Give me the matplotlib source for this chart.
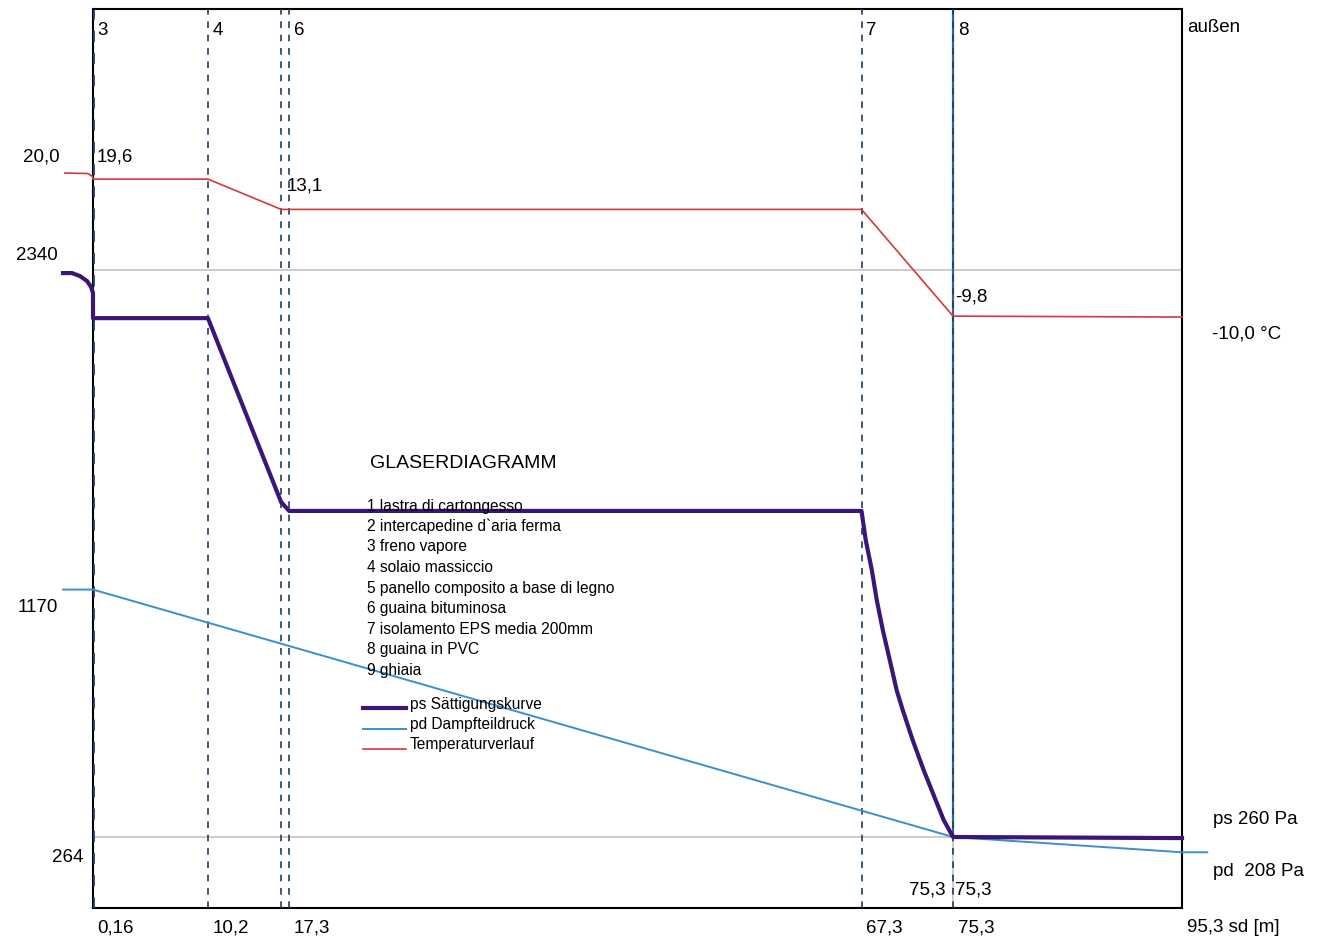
import matplotlib
matplotlib.use("Agg")
import matplotlib.pyplot as plt
from matplotlib.lines import Line2D
from matplotlib.transforms import blended_transform_factory

plt.rcParams['font.family'] = ['Liberation Sans', 'DejaVu Sans']

# layer boundaries (sd in m)
bounds = [0.16, 10.2, 16.6, 17.3, 67.3, 75.3]
layer_x = [0.16, 10.2, 17.3, 67.3, 75.3]
layer_txt = ['3', '4', '6', '7', '8']

# temperature curve (°C)
temp_x = [-2.3, -0.3, 0.1, 0.16, 10.2, 16.6, 17.3, 67.3, 75.3, 95.3]
temp_y = [20.9, 20.8, 20.2, 19.6, 19.6, 13.1, 13.1, 13.1, -9.8, -10.0]

# saturation pressure ps (Pa)
ps_x = [-2.46, -1.67, -0.98, -0.36, -0.01, 0.16, 0.16, 10.2, 16.6, 17.3,
        67.3, 67.67, 68.2, 68.63, 69.16, 69.77, 70.37, 70.9, 71.77, 72.73,
        73.78, 74.48, 75.3, 95.3]
ps_y = [2329, 2329, 2318, 2300, 2278, 2256, 2164, 2164, 1490, 1458,
        1458, 1351, 1242, 1132, 1022, 912, 802, 729, 619, 509,
        399, 326, 264, 260]

# partial vapour pressure pd (Pa)
pd_x = [-2.46, 0.16, 75.3, 95.3, 97.5]
pd_y = [1170, 1170, 264, 208, 208]

layers = ['1 lastra di cartongesso', '2 intercapedine d`aria ferma', '3 freno vapore',
          '4 solaio massiccio', '5 panello composito a base di legno', '6 guaina bituminosa',
          '7 isolamento EPS media 200mm', '8 guaina in PVC', '9 ghiaia']
legend_txt = ['ps Sättigungskurve', 'pd Dampfteildruck', 'Temperaturverlauf']

c_ps = '#3b1677'
c_pd = '#3a8fd0'
c_t = '#d13a3a'
c_dash = '#1d3d63'
c_grey = '#c4c4c4'

W, H = 1329, 939
fig = plt.figure(figsize=(W / 100, H / 100), dpi=100)
ax = fig.add_axes([93 / W, 1 - 908 / H, (1182 - 93) / W, (908 - 9) / H])
ax.set_xlim(0.16, 95.3)
ax.set_ylim(4, 3296)
ax.set_xticks([])
ax.set_yticks([])
for s in ax.spines.values():
    s.set_linewidth(1.5)
    s.set_color('black')

ax2 = ax.twinx()
ax2.set_ylim(-136.8, 56.1)
ax2.axis('off')

# grey reference lines
ax.axhline(2340, color=c_grey, lw=1.2, zorder=1)
ax.axhline(264, color=c_grey, lw=1.2, zorder=1)

# layer boundaries
ax.plot([75.3, 75.3], [264, 3296], color='#2f6690', lw=1.6, zorder=2)
ax.plot([75.3, 75.3], [4, 264], color=c_grey, lw=1.2, zorder=2)
for b in bounds:
    ax.axvline(b, color=c_dash, lw=2.0 if b == 0.16 else 1.2,
               linestyle=(0, (4, 4)), zorder=3)

# curves
ax.plot(pd_x, pd_y, color=c_pd, lw=1.4, clip_on=False, zorder=4)
ax.plot(ps_x, ps_y, color=c_ps, lw=3, clip_on=False, zorder=5,
        solid_joinstyle='round')
ax2.plot(temp_x, temp_y, color=c_t, lw=1.2, clip_on=False, zorder=5)

fs = 13.5
trans_top = blended_transform_factory(ax.transData, ax.transAxes)
for x, t in zip(layer_x, layer_txt):
    ax.text(x + 0.4, 0.976, t, transform=trans_top, fontsize=fs, va='center', ha='left')

fig.text(1187 / W, 1 - 27 / H, 'außen', fontsize=fs, va='center', ha='left')
fig.text(60 / W, 1 - 157 / H, '20,0', fontsize=fs, va='center', ha='right')
fig.text(58 / W, 1 - 256 / H, '2340', fontsize=fs, va='center', ha='right')
fig.text(58 / W, 1 - 608 / H, '1170', fontsize=fs, va='center', ha='right')
fig.text(83 / W, 1 - 857 / H, '264', fontsize=fs, va='center', ha='right')
fig.text(97 / W, 1 - 157 / H, '19,6', fontsize=fs, va='center', ha='left')
fig.text(287 / W, 1 - 186 / H, '13,1', fontsize=fs, va='center', ha='left')
fig.text(955 / W, 1 - 297 / H, '-9,8', fontsize=fs, va='center', ha='left')
fig.text(1212 / W, 1 - 334 / H, '-10,0 °C', fontsize=fs, va='center', ha='left')
fig.text(1213 / W, 1 - 820 / H, 'ps 260 Pa', fontsize=fs, va='center', ha='left')
fig.text(1213 / W, 1 - 872 / H, 'pd  208 Pa', fontsize=fs, va='center', ha='left')
fig.text(946 / W, 1 - 890 / H, '75,3', fontsize=fs, va='center', ha='right')
fig.text(955 / W, 1 - 890 / H, '75,3', fontsize=fs, va='center', ha='left')

bottom = ['0,16', '10,2', '17,3', '67,3', '75,3', '95,3 sd [m]']
bottom_x = [0.16, 10.2, 17.3, 67.3, 75.3, 95.3]
for x, t in zip(bottom_x, bottom):
    ax.text(x + 0.4, -0.022, t, transform=trans_top, fontsize=fs, va='center', ha='left')

fig.text(370 / W, 1 - 463 / H, 'GLASERDIAGRAMM', fontsize=14, va='center', ha='left')
for i, t in enumerate(layers):
    fig.text(367 / W, 1 - (506 + i * 20.5) / H, t, fontsize=11.2, va='center', ha='left')

for i, (t, c, lw) in enumerate(zip(legend_txt, [c_ps, c_pd, c_t], [3, 1.4, 1.2])):
    y = 1 - (708 + i * 20.5) / H
    fig.add_artist(Line2D([363 / W, 406 / W], [y, y], color=c, lw=lw))
    fig.text(410 / W, 1 - (704 + i * 20.5) / H, t, fontsize=11.2, va='center', ha='left')

fig.savefig('out.png', dpi=100)
